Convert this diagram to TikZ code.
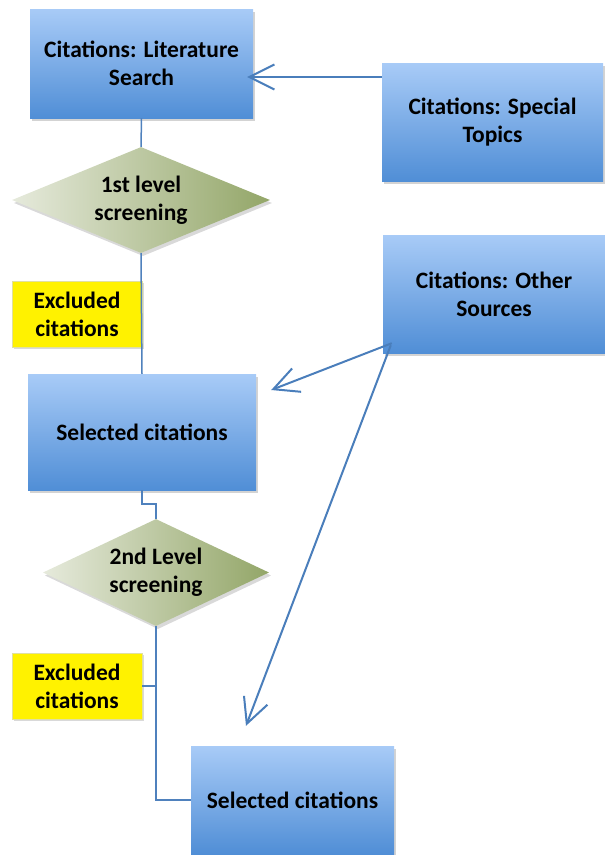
\documentclass[tikz,border=0pt]{standalone}
\usepackage{fontspec}
\setmainfont{Carlito}
\usepackage{tikz}
\usetikzlibrary{shapes.geometric,shadows,arrows.meta}

\begin{document}
\begin{tikzpicture}[x=1pt,y=-1pt,
	box/.style={rectangle, inner sep=0, align=center, top color=custcol_a8_cb_f7, bottom color=custcol_50_8e_d6, drop shadow={shadow xshift=2pt, shadow yshift=-3pt, opacity=0.35}},
	screen/.style={diamond, aspect=2.4, inner sep=0, align=center, left color=custcol_e6_ea_dc, right color=custcol_93_a6_68, drop shadow={shadow xshift=2pt, shadow yshift=-3pt, opacity=0.3}},
	excl/.style={rectangle, inner sep=0, align=center, fill=yellow, draw=custcol_e0_e0_a0, line width=0.4pt, minimum width=130, minimum height=66, drop shadow={shadow xshift=1.5pt, shadow yshift=-2pt, opacity=0.3}},
	link/.style={line width=1.5pt, custcol_4f_81_bd},
	arr/.style={line width=2pt, custcol_4a_7e_bb, -{Straight Barb[length=25pt, width=25pt, line width=2pt]}},
	txt/.style={font=\fontsize{23.5pt}{28pt}\selectfont\bfseries}]
					\definecolor{custcol_a8_cb_f7}{RGB}{168, 203, 247}
					\definecolor{custcol_50_8e_d6}{RGB}{80, 142, 214}
					\definecolor{custcol_e6_ea_dc}{RGB}{230, 234, 220}
					\definecolor{custcol_93_a6_68}{RGB}{147, 166, 104}
					\definecolor{custcol_e0_e0_a0}{RGB}{224, 224, 160}
					\definecolor{custcol_4f_81_bd}{RGB}{79, 129, 189}
					\definecolor{custcol_4a_7e_bb}{RGB}{74, 126, 187}
					\useasboundingbox (0,0) rectangle (605,855);
					% boxes
					\node[box, txt, minimum width=223, minimum height=109] (lit) at (141.5,63.5) {Citations: Literature\\Search};
					\node[box, txt, minimum width=221, minimum height=118] (spec) at (492.5,122) {Citations: Special\\Topics};
					\node[screen, txt, minimum width=258, minimum height=106] (scr1) at (141,200) {1st level\\screening};
					\node[excl, txt] (exc1) at (77,314) {Excluded\\citations};
					\node[box, txt, minimum width=222, minimum height=118] (other) at (494,294) {Citations: Other\\Sources};
					\node[box, txt, minimum width=228, minimum height=116] (sel1) at (142,432) {Selected citations};
					\node[screen, txt, minimum width=226, minimum height=107] (scr2) at (156,572.5) {2nd Level\\screening};
					\node[excl, txt] (exc2) at (77,686) {Excluded\\citations};
					\node[box, txt, minimum width=203, minimum height=108] (sel2) at (292.5,800) {Selected citations};
					% connectors
					\draw[link] (lit.south) -- (scr1.north);
					\draw[link] (scr1.south) -- (sel1.north);
					\draw[link] (sel1.south) -- ++(0,14) -| (scr2.north);
					\draw[link] (scr2.south) |- (sel2.west);
					\draw[link] (exc2.east) -- (exc2.east -| scr2.south);
					\draw[arr] ([yshift=45pt]spec.west) -- ([xshift=-6pt,yshift=-13.5pt]lit.east);
					\draw[arr] ([xshift=9pt,yshift=10pt]other.south west) -- ([xshift=15pt,yshift=42pt]sel1.east);
					\draw[arr] ([xshift=8pt,yshift=8pt]other.south west) -- ([xshift=-46.5pt,yshift=20pt]sel2.north);
				\end{tikzpicture}
\end{document}
